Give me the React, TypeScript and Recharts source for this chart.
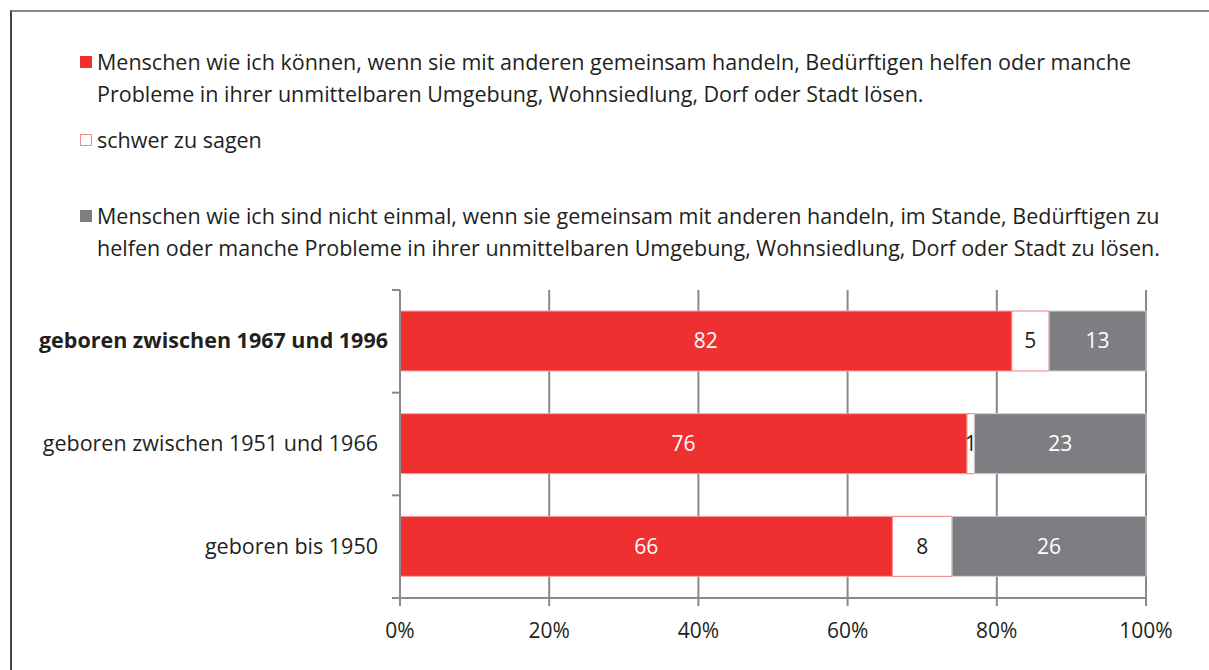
import React from 'react'
import { BarChart, Bar, XAxis, YAxis, CartesianGrid, LabelList } from 'recharts'

const categories = ['geboren zwischen 1967 und 1996', 'geboren zwischen 1951 und 1966', 'geboren bis 1950']
const canHelp = [82, 76, 66]
const hardToSay = [5, 1, 8]
const cannotHelp = [13, 23, 26]
const xTicks = [0, 20, 40, 60, 80, 100]

const legendItems = [
  {
    text: 'Menschen wie ich können, wenn sie mit anderen gemeinsam handeln, Bedürftigen helfen oder manche Probleme in ihrer unmittelbaren Umgebung, Wohnsiedlung, Dorf oder Stadt lösen.',
    fill: '#ee3130',
    border: '#ee3130',
    top: 46,
  },
  { text: 'schwer zu sagen', fill: '#ffffff', border: '#f08a8a', top: 124 },
  {
    text: 'Menschen wie ich sind nicht einmal, wenn sie gemeinsam mit anderen handeln, im Stande, Bedürftigen zu helfen oder manche Probleme in ihrer unmittelbaren Umgebung, Wohnsiedlung, Dorf oder Stadt zu lösen.',
    fill: '#7d7e82',
    border: '#7d7e82',
    top: 200,
  },
]

const data = categories.map((name, i) => ({
  name,
  canHelp: canHelp[i],
  hardToSay: hardToSay[i],
  cannotHelp: cannotHelp[i],
}))

const FONT = '"Open Sans", "Noto Sans", sans-serif'
const AXIS = '#8a8a8e'

// category label plus the small tick marks at the band edges (like the original axis)
function CategoryTick(props: any) {
  const { x, y, payload, index, visibleTicksCount } = props
  const bold = index === 0
  const half = payload?.offset ?? 0
  const isLast = index === (visibleTicksCount ?? categories.length) - 1
  return (
    <g>
      {half > 0 && <line x1={x} x2={x + 8} y1={y - half} y2={y - half} stroke={AXIS} strokeWidth={2} />}
      {half > 0 && isLast && <line x1={x} x2={x + 8} y1={y + half} y2={y + half} stroke={AXIS} strokeWidth={2} />}
      <text
        x={bold ? x - 4 : x - 14}
        y={y}
        dy={7}
        textAnchor="end"
        fontFamily={FONT}
        fontSize={21.5}
        fontWeight={bold ? 700 : 400}
        fill="#231f20"
      >
        {payload.value}
      </text>
    </g>
  )
}

export default function App() {
  return (
    <div style={{ position: 'absolute', left: 0, top: 0, width: 1209, height: 670, background: '#fff', fontFamily: FONT, overflow: 'hidden' }}>
      <div style={{ position: 'absolute', left: 10, top: 10, width: 1220, height: 700, borderLeft: '2px solid #444', borderTop: '2px solid #888' }} />
      {legendItems.map((item) => (
        <div key={item.text} style={{ position: 'absolute', left: 80, top: item.top, width: 1095, color: '#231f20', fontSize: 21.5, lineHeight: '32px' }}>
          <span
            style={{
              position: 'absolute',
              left: 0,
              top: 10,
              width: 10,
              height: 10,
              background: item.fill,
              border: `1px solid ${item.border}`,
            }}
          />
          <div style={{ marginLeft: 17 }}>{item.text}</div>
        </div>
      ))}
      <div style={{ position: 'absolute', left: 0, top: 0 }}>
        <BarChart
          width={1209}
          height={670}
          data={data}
          layout="vertical"
          margin={{ top: 290, right: 63, bottom: 32, left: 10 }}
          barSize={60}
        >
          <CartesianGrid horizontal={false} vertical stroke={AXIS} strokeWidth={2} />
          <XAxis
            type="number"
            domain={[0, 100]}
            ticks={xTicks}
            tickFormatter={(v: number) => `${v}%`}
            axisLine={{ stroke: AXIS, strokeWidth: 2 }}
            tickLine={{ stroke: AXIS, strokeWidth: 2 }}
            tickSize={8}
            height={40}
            tick={{ fill: '#231f20', fontSize: 21, fontFamily: FONT, dy: 15 }}
          />
          <YAxis
            type="category"
            dataKey="name"
            width={390}
            axisLine={{ stroke: AXIS, strokeWidth: 2 }}
            tickLine={false}
            tickSize={8}
            tickMargin={0}
            tick={<CategoryTick />}
          />
          <Bar dataKey="canHelp" stackId="a" fill="#ee3130" stroke="#f4a3a3" strokeWidth={1} isAnimationActive={false}>
            <LabelList dataKey="canHelp" position="center" fill="#ffffff" fontSize={21} fontFamily={FONT} />
          </Bar>
          <Bar dataKey="hardToSay" stackId="a" fill="#ffffff" stroke="#f27a7a" strokeWidth={1} isAnimationActive={false}>
            <LabelList dataKey="hardToSay" position="center" fill="#231f20" fontSize={21} fontFamily={FONT} />
          </Bar>
          <Bar dataKey="cannotHelp" stackId="a" fill="#7d7e82" stroke="#cfcfd2" strokeWidth={1} isAnimationActive={false}>
            <LabelList dataKey="cannotHelp" position="center" fill="#ffffff" fontSize={21} fontFamily={FONT} />
          </Bar>
        </BarChart>
      </div>
    </div>
  )
}
